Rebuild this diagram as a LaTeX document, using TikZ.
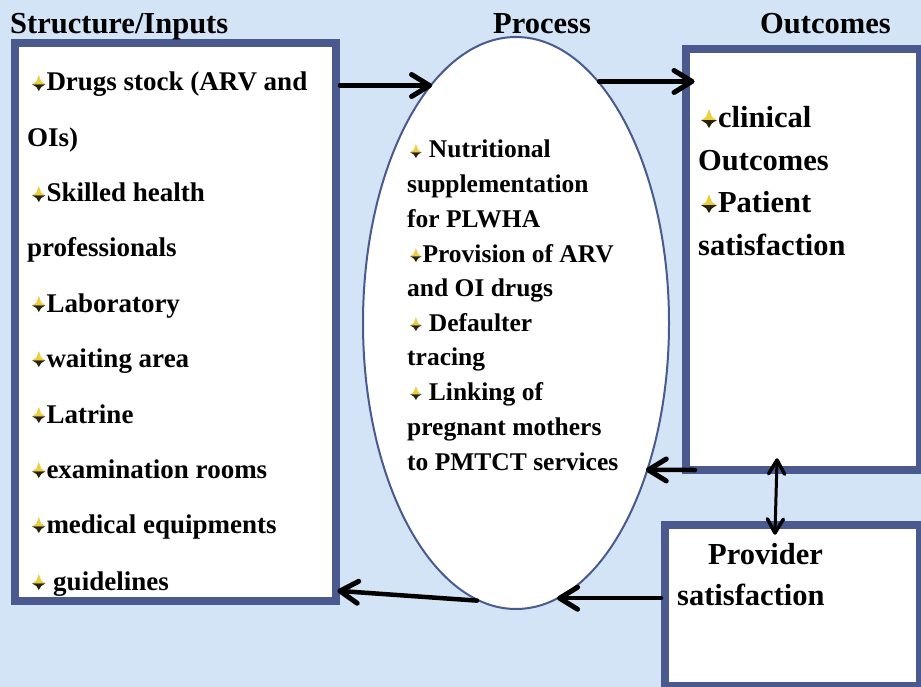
\documentclass[tikz,border=0pt]{standalone}
\usepackage{fontspec}
\setmainfont{Liberation Serif}
\usetikzlibrary{shapes.geometric,calc,shadows,decorations.markings}
\definecolor{bgblue}{RGB}{210,228,245}
\definecolor{boxblue}{RGB}{74,90,142}
\definecolor{shadowc}{RGB}{125,150,165}
\definecolor{bulgold}{RGB}{236,205,60}
\definecolor{buldark}{RGB}{40,34,8}
\newcommand{\bul}[1][1.1]{\tikz[baseline=0pt,x=#1pt,y=#1pt]{\useasboundingbox (0,0) rectangle (13,14);
  \fill[bulgold] (0,6)--(3.8,8.6)--(6,14.5)--(8.2,8.6)--(12,6)--cycle;
  \fill[buldark] (0,6)--(3.8,3.6)--(6,0)--(8.2,3.6)--(12,6)--cycle;}}
\begin{document}
\begin{tikzpicture}[x=1pt,y=-1pt,
  box/.style={rectangle,draw=boxblue,line width=8pt,fill=white,inner sep=0pt,
    drop shadow={shadow xshift=2pt,shadow yshift=-3pt,fill=shadowc,opacity=0.8}},
  title/.style={anchor=base west,inner sep=0pt,font=\bfseries\fontsize{30.5}{36}\selectfont},
  lt/.style={anchor=base west,inner sep=0pt,font=\bfseries\fontsize{27}{30}\selectfont},
  et/.style={anchor=base west,inner sep=0pt,font=\bfseries\fontsize{25.5}{30}\selectfont},
  ot/.style={anchor=base west,inner sep=0pt,font=\bfseries\fontsize{30.5}{36}\selectfont},
  arr/.style={line width=4.5pt,line cap=round,postaction={decorate},
    decoration={markings,mark=at position 1 with
      {\draw[line width=5pt,line cap=round,line join=round] (-18pt,11pt)--(0pt,0pt)--(-18pt,-11pt);}}},
  darr/.style={line width=3pt,line cap=round,postaction={decorate},
    decoration={markings,
      mark=at position 0 with
      {\draw[line width=3.5pt,line cap=round,line join=round] (14pt,8pt)--(0pt,0pt)--(14pt,-8pt);},
      mark=at position 1 with
      {\draw[line width=3.5pt,line cap=round,line join=round] (-14pt,8pt)--(0pt,0pt)--(-14pt,-8pt);}}}]
\fill[bgblue] (0,0) rectangle (921,687);
\useasboundingbox (0,0) rectangle (921,687);

% boxes
\node[box,minimum width=321.5pt,minimum height=558pt] (inputs) at (175.25,322) {};
\node[box,minimum width=234pt,minimum height=421pt] (outcomes) at (803,259.5) {};
\node[box,minimum width=255pt,minimum height=161pt] (provider) at (792.5,605.5) {};
\node[ellipse,draw=boxblue,line width=2pt,fill=white,inner sep=0pt,
  minimum width=306pt,minimum height=572pt] (proc) at (516,323) {};

% titles
\node[title] (t1) at (10,34) {Structure/Inputs};
\node[title] (t2) at (493,34) {Process};
\node[title] (t3) at (760,34) {Outcomes};

% left box text
\node[lt] (l1) at (32,91) {\bul Drugs stock (ARV and};
\node[lt] (l2) at (27,147) {OIs)};
\node[lt] (l3) at (32,202) {\bul Skilled health};
\node[lt] (l4) at (27,257) {professionals};
\node[lt] (l5) at (32,312) {\bul Laboratory};
\node[lt] (l6) at (32,367) {\bul waiting area};
\node[lt] (l7) at (32,423) {\bul Latrine};
\node[lt] (l8) at (32,478) {\bul examination rooms};
\node[lt] (l9) at (32,533) {\bul medical equipments};
\node[lt] (l10) at (32,590) {\bul\ guidelines};

% ellipse text
\node[et] (e1) at (410,158) {\bul[0.95]\ Nutritional};
\node[et] (e2) at (407,193) {supplementation};
\node[et] (e3) at (407,228) {for PLWHA};
\node[et] (e4) at (410,262) {\bul[0.95]Provision of ARV};
\node[et] (e5) at (407,296) {and OI drugs};
\node[et] (e6) at (410,331) {\bul[0.95]\ Defaulter};
\node[et] (e7) at (407,365) {tracing};
\node[et] (e8) at (410,400) {\bul[0.95]\ Linking of};
\node[et] (e9) at (407,435) {pregnant mothers};
\node[et] (e10) at (407,470) {to PMTCT services};

% outcomes text
\node[ot] (o1) at (701,128) {\bul[1.3]clinical};
\node[ot] (o2) at (698,171) {Outcomes};
\node[ot] (o3) at (701,213) {\bul[1.3]Patient};
\node[ot] (o4) at (698,255) {satisfaction};

% provider text
\node[ot] (p1) at (708,564) {Provider};
\node[ot] (p2) at (677,605) {satisfaction};

% connectors
\draw[arr] (inputs.east |- proc.110.6) -- (proc.110.6);
\draw[arr] (proc.71.7) -- ($(outcomes.west |- proc.71.7)+(10,0)$);
\draw[arr] ($(outcomes.south west)+(13,-4)$) -- (proc.-48.4);
\draw[darr] ($(outcomes.south west)+(95,-14)$) -- ($(provider.north west)+(114,12)$);
\draw[arr] (provider.west |- proc.-81) -- (proc.-81);
\draw[arr] (proc.-98) -- ($(inputs.south east)+(0,-14)$);
\end{tikzpicture}
\end{document}
